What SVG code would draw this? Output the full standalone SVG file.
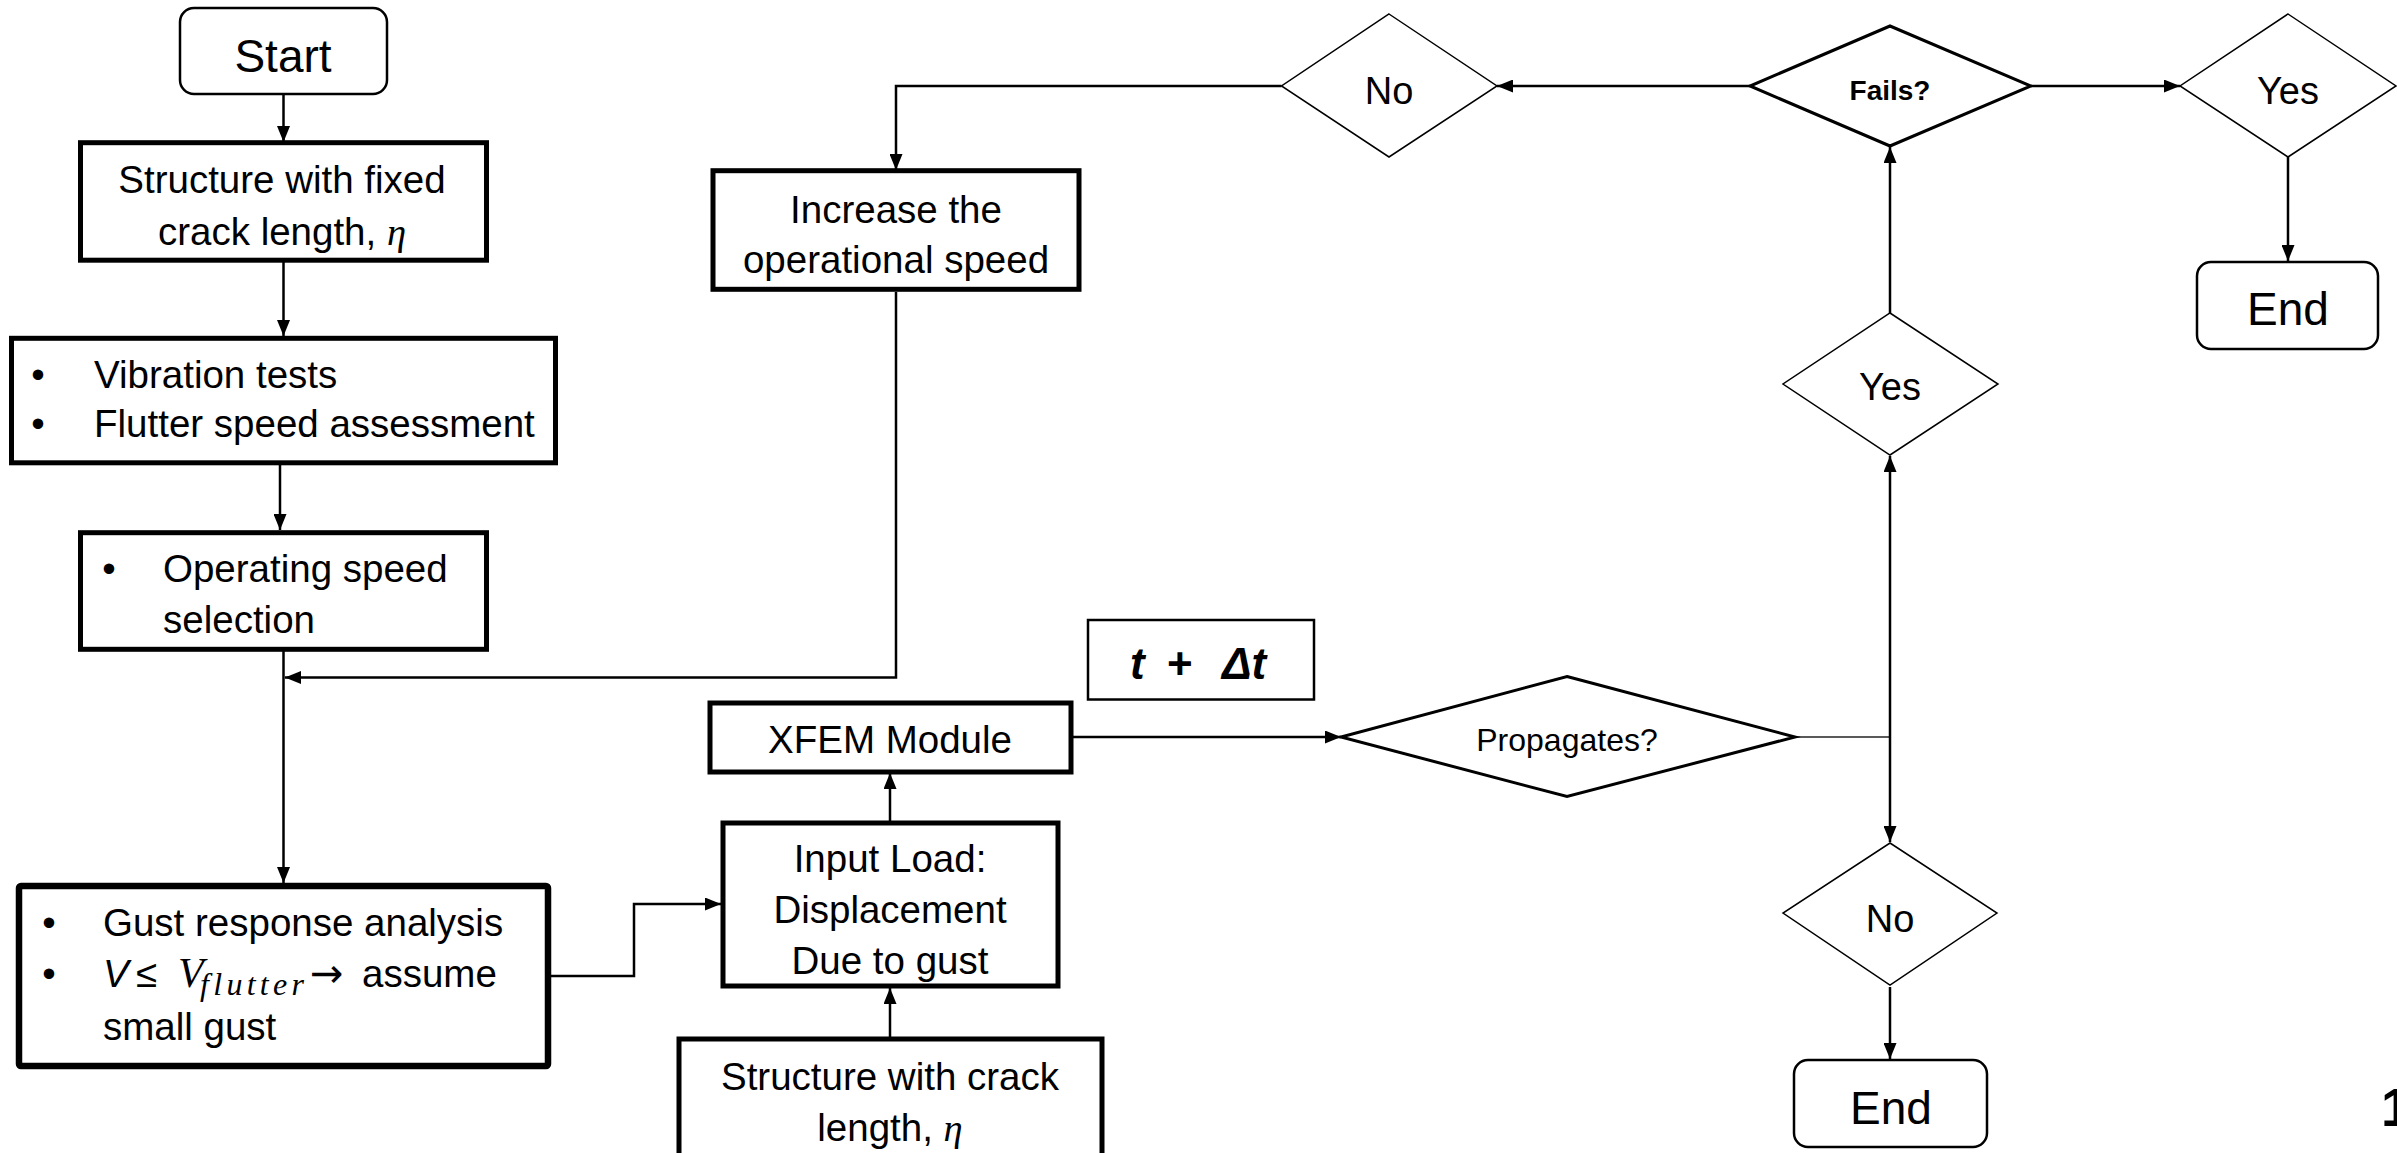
<svg xmlns="http://www.w3.org/2000/svg" width="2397" height="1153" viewBox="0 0 2397 1153">
<style>
  text { font-family: "Liberation Sans", Arial, sans-serif; fill: #000; }
  .t { font-size: 38.5px; }
  .c { text-anchor: middle; }
  .big { font-size: 46px; }
  .dec { font-size: 38px; }
  .math { font-family: "Liberation Serif", "DejaVu Serif", serif; font-style: italic; }
  .sym { font-family: "DejaVu Sans", sans-serif; font-size: 40px; }
  .thick { fill: #fff; stroke: #000; stroke-width: 5; }
  .thicker { fill: #fff; stroke: #000; stroke-width: 6.5; }
  .term { fill: #fff; stroke: #000; stroke-width: 2.5; }
  .dthin { fill: #fff; stroke: #000; stroke-width: 1.5; }
  .dmed { fill: #fff; stroke: #000; stroke-width: 3; }
  .conn { fill: none; stroke: #000; stroke-width: 2.5; }
  .grey { fill: none; stroke: #595959; stroke-width: 2; }
</style>
<defs>
  <marker id="arr" markerUnits="userSpaceOnUse" markerWidth="16" markerHeight="13" refX="16" refY="6.5" orient="auto">
    <path d="M0,0 L16,6.5 L0,13 Z" fill="#000"/>
  </marker>
</defs>
<rect width="2397" height="1153" fill="#fff"/>

<g id="connectors">
  <path class="conn" d="M283.5,95 V142" marker-end="url(#arr)"/>
  <path class="conn" d="M283.5,262 V336" marker-end="url(#arr)"/>
  <path class="conn" d="M280,465 V530" marker-end="url(#arr)"/>
  <path class="conn" d="M283.5,651 V883" marker-end="url(#arr)"/>
  <path class="conn" d="M896,292 V677.5 H285" marker-end="url(#arr)"/>
  <path class="conn" d="M551,976 H634 V904 H721" marker-end="url(#arr)"/>
  <path class="conn" d="M890,1037 V988" marker-end="url(#arr)"/>
  <path class="conn" d="M890,821 V773" marker-end="url(#arr)"/>
  <path class="conn" d="M1073,737 H1341" marker-end="url(#arr)"/>
  <path class="grey" d="M1795,737 H1890"/>
  <path class="conn" d="M1890,737 V456" marker-end="url(#arr)"/>
  <path class="conn" d="M1890,737 V842" marker-end="url(#arr)"/>
  <path class="conn" d="M1890,313 V147" marker-end="url(#arr)"/>
  <path class="conn" d="M2031,86 H2180" marker-end="url(#arr)"/>
  <path class="conn" d="M1750,86 H1497" marker-end="url(#arr)"/>
  <path class="conn" d="M1281.5,86 H896 V170" marker-end="url(#arr)"/>
  <path class="conn" d="M2288,157 V261" marker-end="url(#arr)"/>
  <path class="conn" d="M1890,987 V1059" marker-end="url(#arr)"/>
</g>

<g id="start">
  <rect class="term" x="180" y="8" width="207" height="86" rx="14"/>
  <text class="big c" x="283" y="72">Start</text>
</g>

<g id="fixed-crack">
  <rect class="thick" x="80.5" y="142.7" width="406" height="117.5"/>
  <text class="t c" x="282" y="193">Structure with fixed</text>
  <text class="t c" x="282" y="245">crack length, <tspan class="math">η</tspan></text>
</g>

<g id="vibration">
  <rect class="thick" x="11.5" y="338.3" width="544" height="124.5"/>
  <text class="t c" x="38" y="388">•</text>
  <text class="t" x="94" y="388">Vibration tests</text>
  <text class="t c" x="38" y="437">•</text>
  <text class="t" x="94" y="437">Flutter speed assessment</text>
</g>

<g id="operating">
  <rect class="thick" x="80.5" y="532.7" width="406" height="116.6"/>
  <text class="t c" x="109" y="582">•</text>
  <text class="t" x="163" y="582">Operating speed</text>
  <text class="t" x="163" y="633">selection</text>
</g>

<g id="gust">
  <rect class="thicker" x="19" y="886" width="529" height="180" rx="2"/>
  <text class="t c" x="49" y="936">•</text>
  <text class="t" x="103" y="936">Gust response analysis</text>
  <text class="t c" x="49" y="987">•</text>
  <text class="t" x="103" y="987" font-style="italic">V</text>
  <text class="t" x="136" y="987">≤</text>
  <text class="math" x="178" y="987" font-size="42">V</text>
  <text class="math" x="200" y="995" font-size="32" textLength="104" lengthAdjust="spacing">flutter</text>
  <text class="sym" x="310" y="987">→</text>
  <text class="t" x="362" y="987">assume</text>
  <text class="t" x="103" y="1040">small gust</text>
</g>

<g id="increase">
  <rect class="thick" x="713" y="170.7" width="366" height="118.6"/>
  <text class="t c" x="896" y="223">Increase the</text>
  <text class="t c" x="896" y="273">operational speed</text>
</g>

<g id="time-step">
  <rect class="term" x="1088" y="620" width="226" height="79.5"/>
  <text x="1130" y="679" font-size="44" font-weight="bold" font-style="italic">t</text>
  <text x="1167" y="679" font-size="44" font-weight="bold">+</text>
  <text x="1222" y="679" font-size="44" font-weight="bold" font-style="italic">Δt</text>
</g>

<g id="xfem">
  <rect class="thick" x="710" y="703" width="361" height="69"/>
  <text class="t c" x="890" y="753">XFEM Module</text>
</g>

<g id="input-load">
  <rect class="thick" x="723" y="823" width="335" height="163"/>
  <text class="t c" x="890" y="872">Input Load:</text>
  <text class="t c" x="890" y="923">Displacement</text>
  <text class="t c" x="890" y="974">Due to gust</text>
</g>

<g id="crack-structure">
  <rect class="thick" x="679" y="1039" width="423" height="125"/>
  <text class="t c" x="890" y="1090">Structure with crack</text>
  <text class="t c" x="890" y="1141">length, <tspan class="math">η</tspan></text>
</g>

<g id="propagates">
  <polygon class="dmed" points="1567,676.5 1795,737 1567,796.5 1341,737"/>
  <text class="c" x="1567" y="751" font-size="32">Propagates?</text>
</g>

<g id="yes-mid">
  <polygon class="dthin" points="1890,313 1998,384 1890,455 1783,384"/>
  <text class="dec c" x="1890" y="400">Yes</text>
</g>

<g id="no-bottom">
  <polygon class="dthin" points="1890,843 1997,913 1890,985 1783,913"/>
  <text class="dec c" x="1890" y="932">No</text>
</g>

<g id="end-bottom">
  <rect class="term" x="1794" y="1060" width="193" height="87" rx="14"/>
  <text class="big c" x="1891" y="1124">End</text>
</g>

<g id="fails">
  <polygon class="dmed" points="1890,26 2031,86 1890,146 1750,86"/>
  <text class="c" x="1890" y="100" font-size="28" font-weight="bold">Fails?</text>
</g>

<g id="no-top">
  <polygon class="dthin" points="1389,14 1497,86 1389,157 1281.5,86"/>
  <text class="dec c" x="1389" y="104">No</text>
</g>

<g id="yes-top">
  <polygon class="dthin" points="2288,14 2396,86 2288,157 2180,86"/>
  <text class="dec c" x="2288" y="104">Yes</text>
</g>

<g id="end-top">
  <rect class="term" x="2197" y="262" width="181" height="87" rx="14"/>
  <text class="big c" x="2288" y="325">End</text>
</g>

<text x="2381" y="1126" font-size="54" font-weight="bold">1</text>
</svg>
